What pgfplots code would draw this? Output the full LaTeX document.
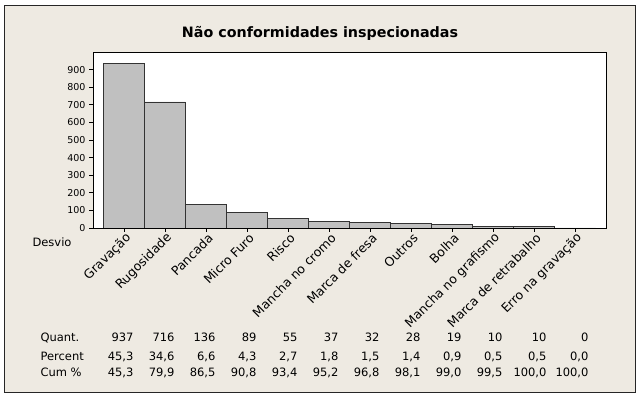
\documentclass[border=0pt]{standalone}
\usepackage{fontspec}
\setmainfont{DejaVu Sans}
\usepackage{pgfplots}
\pgfplotsset{compat=1.18}
\definecolor{bgbeige}{HTML}{EEEAE2}
\definecolor{barfill}{HTML}{C0C0C0}
\begin{document}
\begin{tikzpicture}[x=1pt,y=1pt]
\path[use as bounding box, fill=white] (0,0) rectangle (641,398);
\draw[fill=bgbeige, draw=black!85, line width=0.9pt] (4.5,5.5) rectangle (635,393);
\node[font=\bfseries\fontsize{14.3}{16}\selectfont] at (320,365) {Não conformidades inspecionadas};
\begin{axis}[
  at={(93pt,170pt)}, anchor=south west,
  scale only axis, width=513pt, height=176pt,
  xmin=-0.756, xmax=11.756, ymin=0, ymax=1000,
  axis background/.style={fill=white},
  ybar, bar width=1,
  xtick={0,...,11},
  xticklabels={Gravação,Rugosidade,Pancada,Micro Furo,Risco,Mancha no cromo,Marca de fresa,Outros,Bolha,Mancha no grafismo,Marca de retrabalho,Erro na gravação},
  ytick={0,100,...,900},
  /pgf/number format/assume math mode=true,
  tick align=outside, xtick pos=bottom, ytick pos=left,
  major tick length=4pt,
  yticklabel style={font=\fontsize{9.5}{10}\selectfont},
  xticklabel style={font=\fontsize{12.5}{13}\selectfont, rotate=45, anchor=east, xshift=4pt, yshift=-6pt},
  axis line style={line width=0.8pt},
  tick style={black, line width=0.6pt},
  enlargelimits=false,
]
\addplot[fill=barfill, draw=black!80, line width=0.7pt] coordinates {(0,937) (1,716) (2,136) (3,89) (4,55) (5,37) (6,32) (7,28) (8,19) (9,10) (10,10) (11,0)};
\end{axis}
\node[anchor=west, font=\fontsize{11.5}{13}\selectfont] at (29,156) {Desvio};
\begin{scope}[every node/.style={font=\fontsize{11.5}{13}\selectfont}]
\node[anchor=base west] at (37,56) {Quant.};
\node[anchor=base west] at (37,37) {Percent};
\node[anchor=base west] at (37,21) {Cum \%};
\foreach \x/\q/\p/\c in {137/937/{45,3}/{45,3}, 178/716/{34,6}/{79,9}, 219/136/{6,6}/{86,5}, 260/89/{4,3}/{90,8}, 301/55/{2,7}/{93,4}, 342/37/{1,8}/{95,2}, 383/32/{1,5}/{96,8}, 424/28/{1,4}/{98,1}, 465/19/{0,9}/{99,0}, 506/10/{0,5}/{99,5}, 550/10/{0,5}/{100,0}, 592/0/{0,0}/{100,0}}{
  \node[anchor=base east] at (\x,56) {\q};
  \node[anchor=base east] at (\x,37) {\p};
  \node[anchor=base east] at (\x,21) {\c};
}
\end{scope}
\end{tikzpicture}
\end{document}
